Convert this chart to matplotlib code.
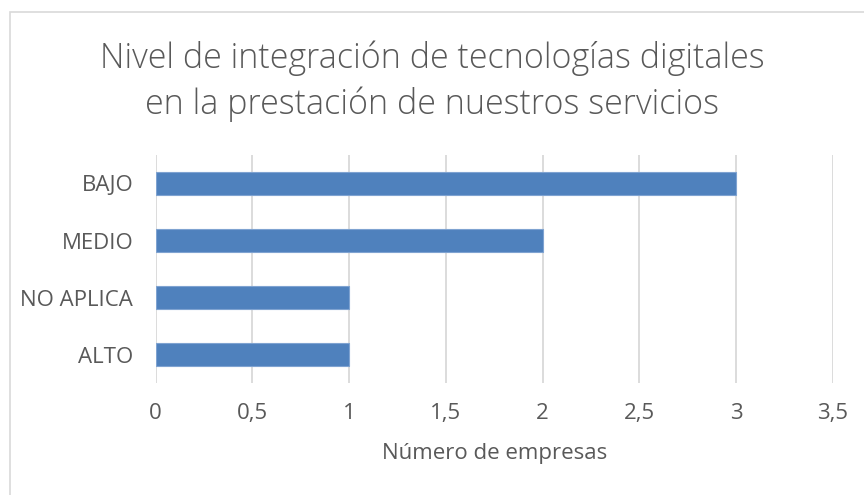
import matplotlib.pyplot as plt
from matplotlib.patches import Rectangle

categorias = ['ALTO', 'NO APLICA', 'MEDIO', 'BAJO']
empresas = [1, 1, 2, 3]
ticks_x = [0, 0.5, 1, 1.5, 2, 2.5, 3, 3.5]
etiquetas_x = ['0', '0,5', '1', '1,5', '2', '2,5', '3', '3,5']

texto = '#595959'
plt.rcParams['font.family'] = ['Open Sans', 'DejaVu Sans']

fig = plt.figure(figsize=(8.64, 4.95), dpi=100)
ax = fig.add_axes([0.180, 0.226, 0.784, 0.461])

ax.barh(range(len(categorias)), empresas, height=0.4, color='#4F81BD',
        edgecolor='#7FA3D1', linewidth=0.8, zorder=3)

ax.set_xlim(0, 3.5)
ax.set_ylim(-0.5, 3.5)
ax.set_xticks(ticks_x)
ax.set_xticklabels(etiquetas_x)
ax.set_yticks(range(len(categorias)))
ax.set_yticklabels(categorias)
ax.tick_params(axis='both', length=0, colors=texto, labelsize=16)
ax.tick_params(axis='y', pad=16)
ax.tick_params(axis='x', pad=14)
ax.grid(axis='x', color='#D9D9D9', linewidth=1.3, zorder=0)
for s in ax.spines.values():
    s.set_visible(False)

ax.set_xlabel('Número de empresas', fontsize=16, color=texto, labelpad=14)
fig.text(0.5, 1 - 40 / 495,
         'Nivel de integración de tecnologías digitales\nen la prestación de nuestros servicios',
         ha='center', va='top', fontsize=24.5, color=texto, linespacing=1.4,
         fontweight='light')

# borde gris del gráfico (se corta por la derecha y por abajo)
fig.patches.append(Rectangle((10 / 864, -10 / 495), 870 / 864, 493 / 495,
                             transform=fig.transFigure, fill=False,
                             edgecolor='#D9D9D9', linewidth=1.2))

fig.savefig('out.png', dpi=100)
